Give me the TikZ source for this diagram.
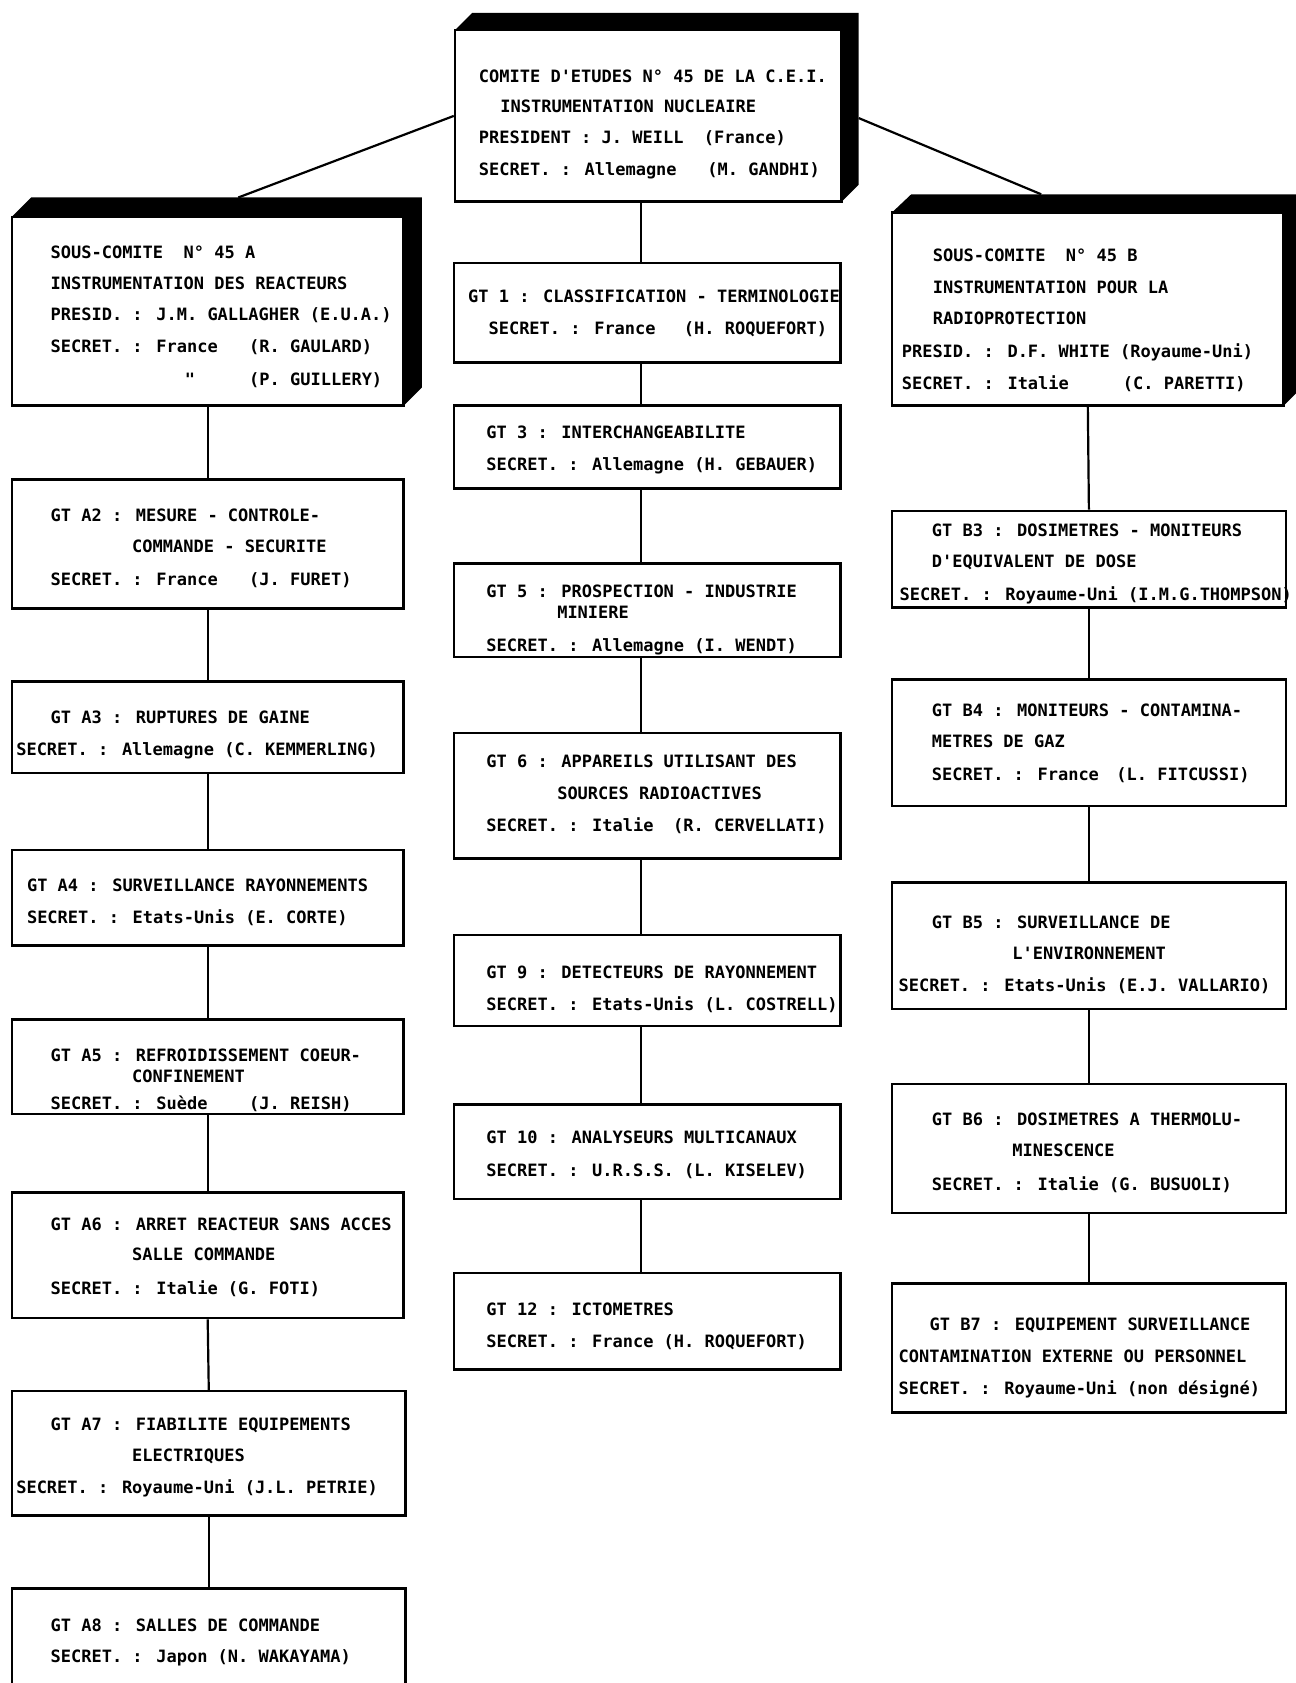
\documentclass[tikz,border=0pt]{standalone}
\usepackage{fontspec}
\newfontfamily\tw{DejaVu Sans Mono}
\usetikzlibrary{fit}
\newcounter{tlc}
\newcommand\tline[3]{\stepcounter{tlc}\node[txt] (t\arabic{tlc}) at (#1,#2) {#3};}
\begin{document}
\begin{tikzpicture}[x=1.0737pt,y=-1.0737pt,
  box/.style={draw, line width=2.6pt, inner sep=0pt, fill=white},
  shade3d/.style={fill=black},
  link/.style={line width=2.2pt},
  txt/.style={anchor=base west, inner sep=0pt, yshift=-6.2pt,
    font=\fontsize{17}{20}\selectfont\tw\bfseries}]
\useasboundingbox (0,0) rectangle (1207,1568);

% 3D shadows
\fill[shade3d] (424,28) -- (440,12) -- (800,12) -- (800,172) -- (784,188) -- (784,28) -- cycle;
\fill[shade3d] (11,202) -- (29,184) -- (393,184) -- (393,361) -- (376,378) -- (376,202) -- cycle;
\fill[shade3d] (831,198) -- (849,181) -- (1213,181) -- (1213,361) -- (1196,378) -- (1196,198) -- cycle;

% boxes
\node[box, fit={(424,28) (784,188)}] (cei) {};
\node[box, fit={(11,202) (376,378)}] (sa) {};
\node[box, fit={(11,447) (376,567)}] (a2) {};
\node[box, fit={(11,635) (376,720)}] (a3) {};
\node[box, fit={(11,792) (376,881)}] (a4) {};
\node[box, fit={(11,950) (376,1038)}] (a5) {};
\node[box, fit={(11,1111) (376,1228)}] (a6) {};
\node[box, fit={(11,1296) (378,1412)}] (a7) {};
\node[box, fit={(11,1480) (378,1610)}] (a8) {};
\node[box, fit={(423,245) (783,338)}] (g1) {};
\node[box, fit={(423,378) (783,455)}] (g3) {};
\node[box, fit={(423,525) (783,612)}] (g5) {};
\node[box, fit={(423,683) (783,800)}] (g6) {};
\node[box, fit={(423,871) (783,956)}] (g9) {};
\node[box, fit={(423,1029) (783,1117)}] (g10) {};
\node[box, fit={(423,1186) (783,1276)}] (g12) {};
\node[box, fit={(831,198) (1196,378)}] (sb) {};
\node[box, fit={(831,476) (1198,566)}] (b3) {};
\node[box, fit={(831,633) (1198,751)}] (b4) {};
\node[box, fit={(831,822) (1198,940)}] (b5) {};
\node[box, fit={(831,1010) (1198,1130)}] (b6) {};
\node[box, fit={(831,1196) (1198,1316)}] (b7) {};

% connectors
\coordinate (aband) at (222,184);
\coordinate (cr) at (800,110);
\coordinate (bband) at (970,181);
\coordinate (mx) at (597,0);
\draw[link] (cei.west) -- (aband);
\draw[link] (cr) -- (bband);
\draw[link] (cei.south -| mx) -- (g1.north -| mx);
\draw[link] (g1.south -| mx) -- (g3.north -| mx);
\draw[link] (g3.south -| mx) -- (g5.north -| mx);
\draw[link] (g5.south -| mx) -- (g6.north -| mx);
\draw[link] (g6.south -| mx) -- (g9.north -| mx);
\draw[link] (g9.south -| mx) -- (g10.north -| mx);
\draw[link] (g10.south -| mx) -- (g12.north -| mx);
\draw[link] (sa.south) -- (a2.north);
\draw[link] (a2.south) -- (a3.north);
\draw[link] (a3.south) -- (a4.north);
\draw[link] (a4.south) -- (a5.north);
\draw[link] (a5.south) -- (a6.north);
\draw[link] (a6.south) -- (a7.north);
\draw[link] (a7.south) -- (a8.north -| a7.south);
\draw[link] (sb.south) -- (b3.north);
\draw[link] (b3.south) -- (b4.north);
\draw[link] (b4.south) -- (b5.north);
\draw[link] (b5.south) -- (b6.north);
\draw[link] (b6.south) -- (b7.north);

% texts: top
\tline{446}{71}{COMITE D'ETUDES N° 45 DE LA C.E.I.}
\tline{466}{99}{INSTRUMENTATION NUCLEAIRE}
\tline{446}{128}{PRESIDENT : J. WEILL\ \ (France)}
\tline{446}{158}{SECRET. : Allemagne\ \ \ (M. GANDHI)}
% 45 A
\tline{47}{235}{SOUS-COMITE\ \ N° 45 A}
\tline{47}{264}{INSTRUMENTATION DES REACTEURS}
\tline{47}{293}{PRESID. : J.M. GALLAGHER (E.U.A.)}
\tline{47}{323}{SECRET. : France}
\tline{232}{323}{(R. GAULARD)}
\tline{172}{353}{"}
\tline{232}{353}{(P. GUILLERY)}
% A2
\tline{47}{480}{GT A2 : MESURE - CONTROLE-}
\tline{123}{509}{COMMANDE - SECURITE}
\tline{47}{540}{SECRET. : France}
\tline{232}{540}{(J. FURET)}
% A3
\tline{47}{668}{GT A3 : RUPTURES DE GAINE}
\tline{15}{698}{SECRET. : Allemagne (C.\ KEMMERLING)}
% A4
\tline{25}{825}{GT A4 : SURVEILLANCE RAYONNEMENTS}
\tline{25}{855}{SECRET. : Etats-Unis (E. CORTE)}
% A5
\tline{47}{983}{GT A5 : REFROIDISSEMENT COEUR-}
\tline{123}{1003}{CONFINEMENT}
\tline{47}{1028}{SECRET. : Suède}
\tline{232}{1028}{(J. REISH)}
% A6
\tline{47}{1141}{GT A6 : ARRET REACTEUR SANS ACCES}
\tline{123}{1169}{SALLE COMMANDE}
\tline{47}{1200}{SECRET. : Italie (G. FOTI)}
% A7
\tline{47}{1327}{GT A7 : FIABILITE EQUIPEMENTS}
\tline{123}{1356}{ELECTRIQUES}
\tline{15}{1386}{SECRET. : Royaume-Uni (J.L. PETRIE)}
% A8
\tline{47}{1514}{GT A8 : SALLES DE COMMANDE}
\tline{47}{1543}{SECRET. : Japon (N. WAKAYAMA)}
% GT1
\tline{436}{276}{GT 1 : CLASSIFICATION - TERMINOLOGIE}
\tline{455}{306}{SECRET. : France}
\tline{637}{306}{(H. ROQUEFORT)}
% GT3
\tline{453}{403}{GT 3 : INTERCHANGEABILITE}
\tline{453}{433}{SECRET. : Allemagne (H. GEBAUER)}
% GT5
\tline{453}{551}{GT 5 : PROSPECTION - INDUSTRIE}
\tline{519}{570}{MINIERE}
\tline{453}{601}{SECRET. : Allemagne (I. WENDT)}
% GT6
\tline{453}{709}{GT 6 : APPAREILS UTILISANT DES}
\tline{519}{739}{SOURCES RADIOACTIVES}
\tline{453}{769}{SECRET. : Italie}
\tline{627}{769}{(R. CERVELLATI)}
% GT9
\tline{453}{906}{GT 9 : DETECTEURS DE RAYONNEMENT}
\tline{453}{936}{SECRET. : Etats-Unis (L. COSTRELL)}
% GT10
\tline{453}{1060}{GT 10 : ANALYSEURS MULTICANAUX}
\tline{453}{1090}{SECRET. : U.R.S.S. (L. KISELEV)}
% GT12
\tline{453}{1220}{GT 12 : ICTOMETRES}
\tline{453}{1250}{SECRET. : France (H. ROQUEFORT)}
% 45 B
\tline{869}{238}{SOUS-COMITE\ \ N° 45 B}
\tline{869}{268}{INSTRUMENTATION POUR LA}
\tline{869}{297}{RADIOPROTECTION}
\tline{840}{327}{PRESID. : D.F. WHITE (Royaume-Uni)}
\tline{840}{357}{SECRET. : Italie}
\tline{1046}{357}{(C. PARETTI)}
% B3
\tline{868}{494}{GT B3 : DOSIMETRES - MONITEURS}
\tline{868}{523}{D'EQUIVALENT DE DOSE}
\tline{838}{554}{SECRET. : Royaume-Uni (I.M.G.THOMPSON)}
% B4
\tline{868}{662}{GT B4 : MONITEURS - CONTAMINA-}
\tline{868}{691}{METRES DE GAZ}
\tline{868}{721}{SECRET. : France}
\tline{1040}{721}{(L. FITCUSSI)}
% B5
\tline{868}{859}{GT B5 : SURVEILLANCE DE}
\tline{943}{888}{L'ENVIRONNEMENT}
\tline{837}{918}{SECRET. : Etats-Unis (E.J. VALLARIO)}
% B6
\tline{868}{1043}{GT B6 : DOSIMETRES A THERMOLU-}
\tline{943}{1072}{MINESCENCE}
\tline{868}{1103}{SECRET. : Italie (G. BUSUOLI)}
% B7
\tline{866}{1234}{GT B7 : EQUIPEMENT SURVEILLANCE}
\tline{837}{1264}{CONTAMINATION EXTERNE OU PERSONNEL}
\tline{837}{1293}{SECRET. : Royaume-Uni (non désigné)}
\end{tikzpicture}
\end{document}
